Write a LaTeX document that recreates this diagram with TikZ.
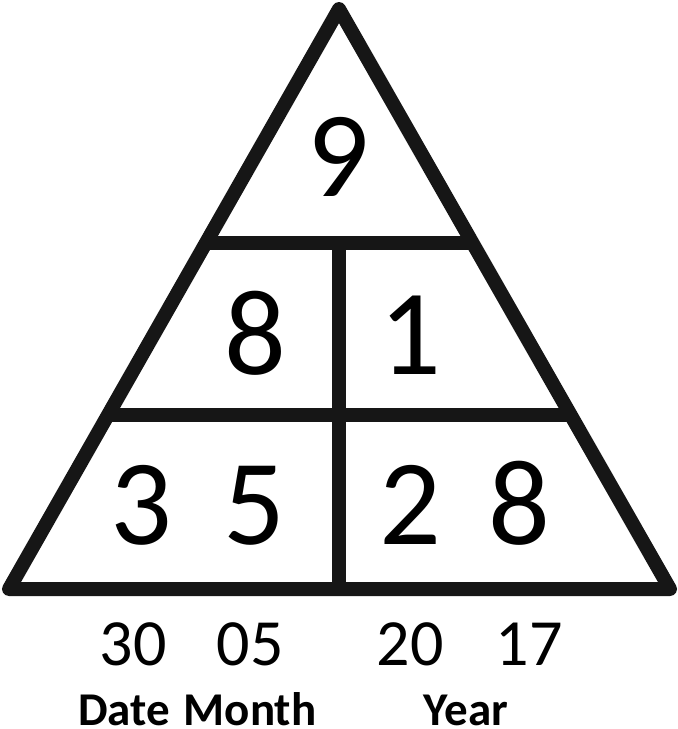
\documentclass[tikz,border=0pt]{standalone}
\usepackage{fontspec}
\setmainfont{Carlito}
\usetikzlibrary{calc}
\definecolor{lineblk}{RGB}{22,22,22}
\tikzset{
  frame/.style={draw=lineblk, line width=14pt, line join=round, line cap=butt},
  bigdigit/.style={anchor=base, inner sep=0pt, font=\fontsize{122}{122}\selectfont},
  smalldigit/.style={anchor=base, inner sep=0pt, font=\fontsize{66}{66}\selectfont},
  labeltext/.style={anchor=base, inner sep=0pt, font=\bfseries\fontsize{47}{47}\selectfont}
}
\begin{document}
\begin{tikzpicture}[x=1pt,y=-1pt]
\useasboundingbox[fill=white] (0,0) rectangle (678,729);
\coordinate (A) at (339,9);
\coordinate (L) at (9,589);
\coordinate (R) at (670,589);
\coordinate (B) at (339,589);
\coordinate (h1l) at ($(A)!0.4034!(L)$);
\coordinate (h1r) at ($(A)!0.4034!(R)$);
\coordinate (h2l) at ($(A)!0.7!(L)$);
\coordinate (h2r) at ($(A)!0.7!(R)$);
\coordinate (vt) at (339,243);
\draw[frame] (A) -- (L) -- (R) -- cycle;
\draw[frame] (h1l) -- (h1r);
\draw[frame] (h2l) -- (h2r);
\draw[frame] (vt) -- (B);
% digits
\node[bigdigit] (n9) at (338,196) {9};
\node[bigdigit] (n8a) at (255,374) {8};
\node[bigdigit] (n1) at (410,374) {1};
\node[bigdigit] (n3) at (141,544) {3};
\node[bigdigit] (n5) at (254,544) {5};
\node[bigdigit] (n2) at (410,544) {2};
\node[bigdigit] (n8b) at (519,544) {8};
% bottom numbers
\node[smalldigit] (d30) at (133,665) {30};
\node[smalldigit] (d05) at (250,665) {05};
\node[smalldigit] (d20) at (410,665) {20};
\node[smalldigit] (d17) at (529,665) {17};
% labels
\node[labeltext] (date) at (124,725) {Date};
\node[labeltext] (month) at (250,725) {Month};
\node[labeltext] (year) at (466,725) {Year};
\end{tikzpicture}
\end{document}
